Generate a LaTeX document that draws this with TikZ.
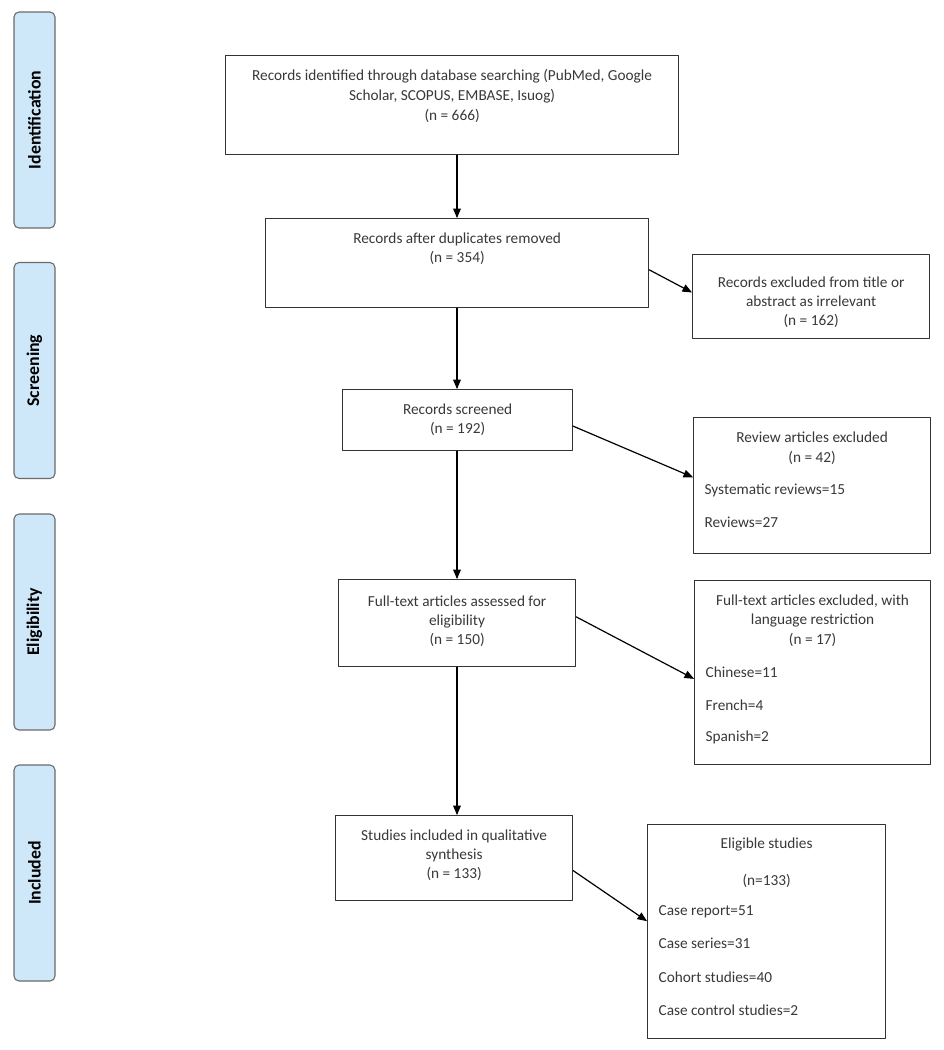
\documentclass[tikz,border=0pt]{standalone}
\usepackage{fontspec}
\setmainfont{Carlito}
\usepackage{tikz}
\usetikzlibrary{arrows}
\definecolor{cfe9f9}{rgb}{0.81,0.91,0.975}
\definecolor{uuuuuu}{rgb}{0.22,0.22,0.22}
\definecolor{zzzzzz}{rgb}{0.2,0.2,0.2}
\definecolor{sqsqsq}{rgb}{0.42,0.42,0.42}
\newcommand{\boxlines}[4]{\parbox[c][#1][t]{#2}{\vspace*{#3}\strut #4}}

\begin{document}
\begin{tikzpicture}[line cap=round,line join=round,>=triangle 45,x=1pt,y=-1pt,
  box/.style={draw=zzzzzz,line width=1.2pt,anchor=north west,inner xsep=11pt,inner ysep=0pt,
    text=uuuuuu,font=\fontsize{15.3}{19.5}\selectfont},
  phase/.style={draw=sqsqsq,fill=cfe9f9,rounded corners=5pt,line width=1.1pt,rotate=90,
    minimum width=216pt,minimum height=41pt,inner sep=0pt,font=\fontsize{17.8}{20}\selectfont\bfseries},
  link/.style={->,line width=1.2pt,black}]
\useasboundingbox (0,0) rectangle (944,1050);
\coordinate (axis) at (457,0);
% phases
\node[phase] (identification) at (34.5,120) {Identification};
\node[phase] (screening) at (34.5,370.5) {Screening};
\node[phase] (eligibility) at (34.5,622) {Eligibility};
\node[phase] (included) at (34.5,873) {Included};
% main column
\node[box] (b1) at (225,55) {\boxlines{99pt}{431pt}{10.85pt}{\centering Records identified through database searching (PubMed, Google\\[0.5pt] Scholar, SCOPUS, EMBASE, Isuog)\\[0.5pt] (n = 666)}};
\node[box] (b2) at (265,218) {\boxlines{89pt}{361pt}{10.85pt}{\centering Records after duplicates removed\\[-0.5pt] (n = 354)}};
\node[box] (b4) at (342,389) {\boxlines{61pt}{208pt}{10.85pt}{\centering Records screened\\[-0.5pt] (n = 192)}};
\node[box] (b6) at (338,579) {\boxlines{87pt}{215pt}{12.85pt}{\centering Full-text articles assessed for\\[-0.5pt] eligibility\\[-0.5pt] (n = 150)}};
\node[box] (b8) at (335,815) {\boxlines{85pt}{215pt}{10.85pt}{\centering Studies included in qualitative\\[-0.5pt] synthesis\\[-0.5pt] (n = 133)}};
% exclusions
\node[box] (b3) at (692,254) {\boxlines{84pt}{215pt}{18.85pt}{\centering Records excluded from title or\\[-0.5pt] abstract as irrelevant\\[-0.5pt] (n = 162)}};
\node[box] (b5) at (693,417) {\boxlines{136pt}{215pt}{10.85pt}{{\centering Review articles excluded\\[0.5pt] (n = 42)\par}\vspace{12.5pt}\raggedright Systematic reviews=15\\[13.5pt] Reviews=27}};
\node[box] (b7) at (694,580) {\boxlines{184pt}{214pt}{10.85pt}{{\centering Full-text articles excluded, with\\[-0.5pt] language restriction\\[0.5pt] (n = 17)\par}\vspace{13.5pt}\raggedright Chinese=11\\[13.5pt] French=4\\[11.5pt] Spanish=2}};
\node[box] (b9) at (647,824) {\boxlines{214pt}{216pt}{9.85pt}{{\centering Eligible studies\\[17.5pt] (n=133)\par}\vspace{10.5pt}\raggedright Case report=51\\[13.5pt] Case series=31\\[14.5pt] Cohort studies=40\\[13.5pt] Case control studies=2}};
% arrows
\draw[link] (b1.south -| axis) -- (b2.north -| axis);
\draw[link] (b2.south -| axis) -- (b4.north -| axis);
\draw[link] (b4.south -| axis) -- (b6.north -| axis);
\draw[link] (b6.south -| axis) -- (b8.north -| axis);
\draw[link] (b2.-2.84) -- (b3.178.5);
\draw[link] (b4.-3.73) -- (b5.176.1);
\draw[link] (b6.3.14) -- (b7.-177.6);
\draw[link] (b8.-6.02) -- (b9.175.7);
\end{tikzpicture}
\end{document}
